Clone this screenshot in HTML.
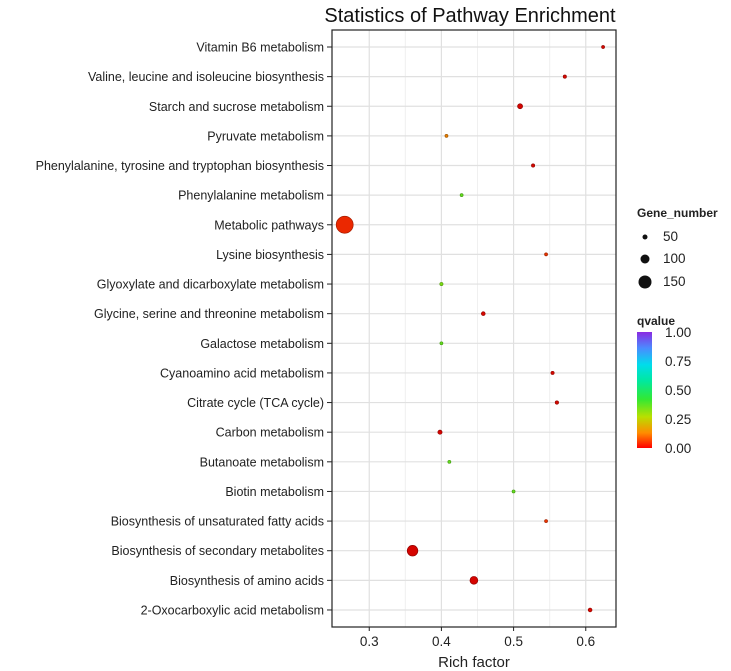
<!DOCTYPE html>
<html><head><meta charset="utf-8"><style>
body{margin:0;background:#fff;}
svg{display:block;font-family:"Liberation Sans",Arial,sans-serif;}
</style></head><body>
<svg id="chart" width="731" height="671">
<defs><linearGradient id="qgrad" x1="0" y1="1" x2="0" y2="0">
<stop offset="0" stop-color="#ff0000"/><stop offset="0.13" stop-color="#ff8c00"/>
<stop offset="0.27" stop-color="#b8e000"/><stop offset="0.42" stop-color="#33e833"/>
<stop offset="0.58" stop-color="#00e8a0"/><stop offset="0.72" stop-color="#00dcec"/>
<stop offset="0.86" stop-color="#4a8cff"/><stop offset="1" stop-color="#8a2be2"/>
</linearGradient></defs>
<text x="470" y="22" font-size="20" text-anchor="middle" fill="#111">Statistics of Pathway Enrichment</text>
<g id="grid"></g><g id="ylab"></g><g id="xlab"></g><g id="dots"></g>
<rect x="332" y="30" width="284" height="597" fill="none" stroke="#222" stroke-width="1.2"/>
<text x="474" y="667" font-size="15" text-anchor="middle" fill="#222">Rich factor</text>
<g>
<text x="637" y="217" font-size="12" font-weight="bold" fill="#222">Gene_number</text>
<circle cx="645" cy="237" r="2.5" fill="#111"/>
<text x="663" y="241" font-size="13.5" fill="#222">50</text>
<circle cx="645" cy="259" r="4.5" fill="#111"/>
<text x="663" y="263" font-size="13.5" fill="#222">100</text>
<circle cx="645" cy="282" r="6.5" fill="#111"/>
<text x="663" y="286" font-size="13.5" fill="#222">150</text>
</g>
<g>
<text x="637" y="325" font-size="12" font-weight="bold" fill="#222">qvalue</text>
<rect x="637" y="332" width="15" height="116" fill="url(#qgrad)"/>
<text x="665" y="337" font-size="13.5" fill="#222">1.00</text>
<text x="665" y="366" font-size="13.5" fill="#222">0.75</text>
<text x="665" y="395" font-size="13.5" fill="#222">0.50</text>
<text x="665" y="424" font-size="13.5" fill="#222">0.25</text>
<text x="665" y="453" font-size="13.5" fill="#222">0.00</text>
</g>
</svg>
<script>
const pathways=["Vitamin B6 metabolism","Valine, leucine and isoleucine biosynthesis","Starch and sucrose metabolism","Pyruvate metabolism","Phenylalanine, tyrosine and tryptophan biosynthesis","Phenylalanine metabolism","Metabolic pathways","Lysine biosynthesis","Glyoxylate and dicarboxylate metabolism","Glycine, serine and threonine metabolism","Galactose metabolism","Cyanoamino acid metabolism","Citrate cycle (TCA cycle)","Carbon metabolism","Butanoate metabolism","Biotin metabolism","Biosynthesis of unsaturated fatty acids","Biosynthesis of secondary metabolites","Biosynthesis of amino acids","2-Oxocarboxylic acid metabolism"];
const richFactor=[0.624,0.571,0.509,0.407,0.527,0.428,0.266,0.545,0.4,0.458,0.4,0.554,0.56,0.398,0.411,0.5,0.545,0.36,0.445,0.606];
const geneNumber=[25,28,50,25,28,25,200,25,28,35,25,28,30,40,25,25,25,120,85,35];
const qvalue=[0.01,0.01,0.005,0.12,0.01,0.36,0.05,0.06,0.33,0.01,0.36,0.01,0.01,0.005,0.36,0.36,0.06,0.005,0.005,0.01];
const xTicks=[0.3,0.4,0.5,0.6];
const NS="http://www.w3.org/2000/svg";
const X0=332,X1=616,D0=0.2484,D1=0.6419,Y0=47,DY=29.63;
const sx=v=>X0+(v-D0)/(D1-D0)*(X1-X0);
const sy=i=>Y0+i*DY;
const sr=n=>0.5+0.04*n;
function mk(t,a,p){const e=document.createElementNS(NS,t);for(const k in a)e.setAttribute(k,a[k]);p.appendChild(e);return e;}
const stops=[[0,[210,0,0]],[0.05,[235,40,0]],[0.13,[235,140,0]],[0.27,[170,220,0]],[0.36,[100,225,30]],[0.45,[51,232,51]],[0.58,[0,232,160]],[0.72,[0,220,236]],[0.86,[74,140,255]],[1,[138,43,226]]];
function qrgb(q){for(let i=1;i<stops.length;i++){if(q<=stops[i][0]){const a=stops[i-1],b=stops[i],t=(q-a[0])/(b[0]-a[0]);return a[1].map((v,j)=>Math.round(v+(b[1][j]-v)*t));}}return [138,43,226];}
const grid=document.getElementById('grid'),yl=document.getElementById('ylab'),xl=document.getElementById('xlab'),dots=document.getElementById('dots');
for(let k=0;k<xTicks.length-1;k++){const m=(xTicks[k]+xTicks[k+1])/2;const g=mk('line',{x1:sx(m),x2:sx(m),y1:30,y2:627,stroke:'#f0f0f0','stroke-width':1},grid);

}
xTicks.forEach(t=>{const g=mk('line',{x1:sx(t),x2:sx(t),y1:30,y2:627,stroke:'#e0e0e0','stroke-width':1.2},grid);


mk('line',{x1:sx(t),x2:sx(t),y1:627,y2:631,stroke:'#222'},xl);
const tx=mk('text',{x:sx(t),y:646,'font-size':13.5,'text-anchor':'middle',fill:'#222'},xl);tx.textContent=t.toFixed(1);

});
pathways.forEach((p,i)=>{const y=sy(i);
const g=mk('line',{x1:332,x2:616,y1:y,y2:y,stroke:'#e0e0e0','stroke-width':1.2},grid);


mk('line',{x1:327,x2:332,y1:y,y2:y,stroke:'#222'},yl);
const t=mk('text',{x:324,y:y+4.5,'font-size':12.5,'text-anchor':'end',fill:'#222'},yl);t.textContent=p;


const c0=qrgb(qvalue[i]);const dk=c0.map(v=>Math.round(v*0.7));
const c=mk('circle',{cx:sx(richFactor[i]),cy:y,r:sr(geneNumber[i]),fill:`rgb(${c0})`,stroke:`rgb(${dk})`,'stroke-width':0.7},dots);

});
</script>
</body></html>
